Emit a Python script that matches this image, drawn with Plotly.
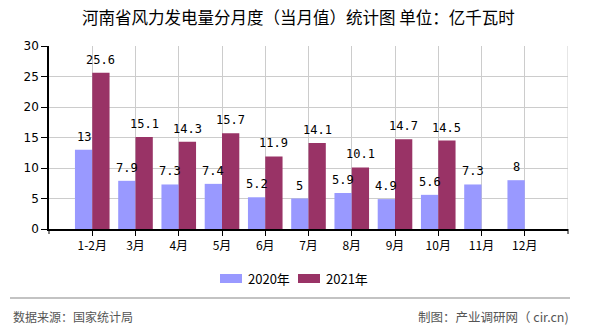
import plotly.graph_objects as go

categories = ["1-2月", "3月", "4月", "5月", "6月", "7月", "8月", "9月", "10月", "11月", "12月"]
values_2020 = [13, 7.9, 7.3, 7.4, 5.2, 5, 5.9, 4.9, 5.6, 7.3, 8]
values_2021 = [25.6, 15.1, 14.3, 15.7, 11.9, 14.1, 10.1, 14.7, 14.5, None, None]
y_ticks = [0, 5, 10, 15, 20, 25, 30]
series_names = ["2020年", "2021年"]

FONT = "Noto Sans CJK SC"
C2020 = "#9999FF"
C2021 = "#993366"

fig = go.Figure()
fig.add_trace(go.Bar(x=categories, y=values_2020, name=series_names[0], marker_color=C2020,
                     marker_line_width=0))
fig.add_trace(go.Bar(x=categories, y=values_2021, name=series_names[1], marker_color=C2021,
                     marker_line_width=0))

annotations = []
for vals, shift in ((values_2020, -8.7), (values_2021, 8.7)):
    for c, v in zip(categories, vals):
        if v is None:
            continue
        annotations.append(dict(x=c, y=v, xref="x", yref="y", text=f"{v:g}",
                                showarrow=False, xshift=shift, yshift=4,
                                yanchor="bottom",
                                font=dict(family="DejaVu Sans Mono", size=12, color="#000")))

# plot area pixel geometry
L, R, T, B = 49, 568, 46, 229
W, H = R - L, B - T
def px_x(p):
    return (p - L) / W
def px_y(p):
    return (B - p) / H

annotations += [
    dict(text="河南省风力发电量分月度（当月值）统计图 单位：亿千瓦时", xref="paper", yref="paper",
         x=px_x(298), y=px_y(17), showarrow=False, xanchor="center", yanchor="middle",
         font=dict(family=FONT, size=16.5, color="#000")),
    dict(text="数据来源：国家统计局", xref="paper", yref="paper", x=px_x(11), y=px_y(316),
         showarrow=False, xanchor="left", yanchor="middle",
         font=dict(family=FONT, size=12, color="#555")),
    dict(text="制图：产业调研网（ cir.cn)", xref="paper", yref="paper", x=px_x(571), y=px_y(316),
         showarrow=False, xanchor="right", yanchor="middle",
         font=dict(family=FONT, size=12.5, color="#555")),
]

shapes = [
    dict(type="line", xref="paper", yref="paper", x0=px_x(10), x1=px_x(570),
         y0=px_y(298), y1=px_y(298), line=dict(color="#888", width=1.2)),
    dict(type="line", xref="x", yref="paper", x0=11, x1=11, y0=0, y1=1,
         line=dict(color="#cccccc", width=1), layer="below"),
    dict(type="line", xref="paper", yref="paper", x0=0, x1=0, y0=0, y1=px_y(234),
         line=dict(color="#000", width=1)),
    dict(type="line", xref="paper", yref="paper", x0=1, x1=1, y0=0, y1=px_y(234),
         line=dict(color="#000", width=1)),
]

# manual legend
legend_items = [(series_names[0], C2020, 220), (series_names[1], C2021, 298)]
for name, color, x0 in legend_items:
    shapes.append(dict(type="rect", xref="paper", yref="paper",
                       x0=px_x(x0), x1=px_x(x0 + 22), y0=px_y(283), y1=px_y(274),
                       fillcolor=color, line=dict(width=0)))
    annotations.append(dict(text=name, xref="paper", yref="paper", x=px_x(x0 + 26),
                            y=px_y(278.5), showarrow=False, xanchor="left", yanchor="middle",
                            font=dict(family=FONT, size=13, color="#000")))

fig.update_layout(
    width=590, height=330,
    margin=dict(l=L, r=590 - R, t=T, b=330 - B),
    paper_bgcolor="white", plot_bgcolor="white",
    barmode="group", bargap=0.2, bargroupgap=0,
    font=dict(family=FONT, size=12, color="#000"),
    showlegend=False,
    xaxis=dict(type="category", range=[-1, 11], showgrid=True, gridcolor="#cccccc",
               gridwidth=1, showline=True, linecolor="#000", linewidth=1.5,
               ticks="outside", ticklen=5, tickcolor="#000",
               tickfont=dict(family=FONT, size=12, color="#000"), zeroline=False),
    yaxis=dict(range=[0, 30], tickvals=y_ticks, showgrid=True, gridcolor="#cccccc",
               gridwidth=1, showline=True, linecolor="#000", linewidth=1.5,
               ticks="outside", ticklen=6, tickcolor="#000",
               tickfont=dict(family="DejaVu Sans", size=12, color="#000"), zeroline=False),
    annotations=annotations,
    shapes=shapes,
)

fig.write_html("out.html")
